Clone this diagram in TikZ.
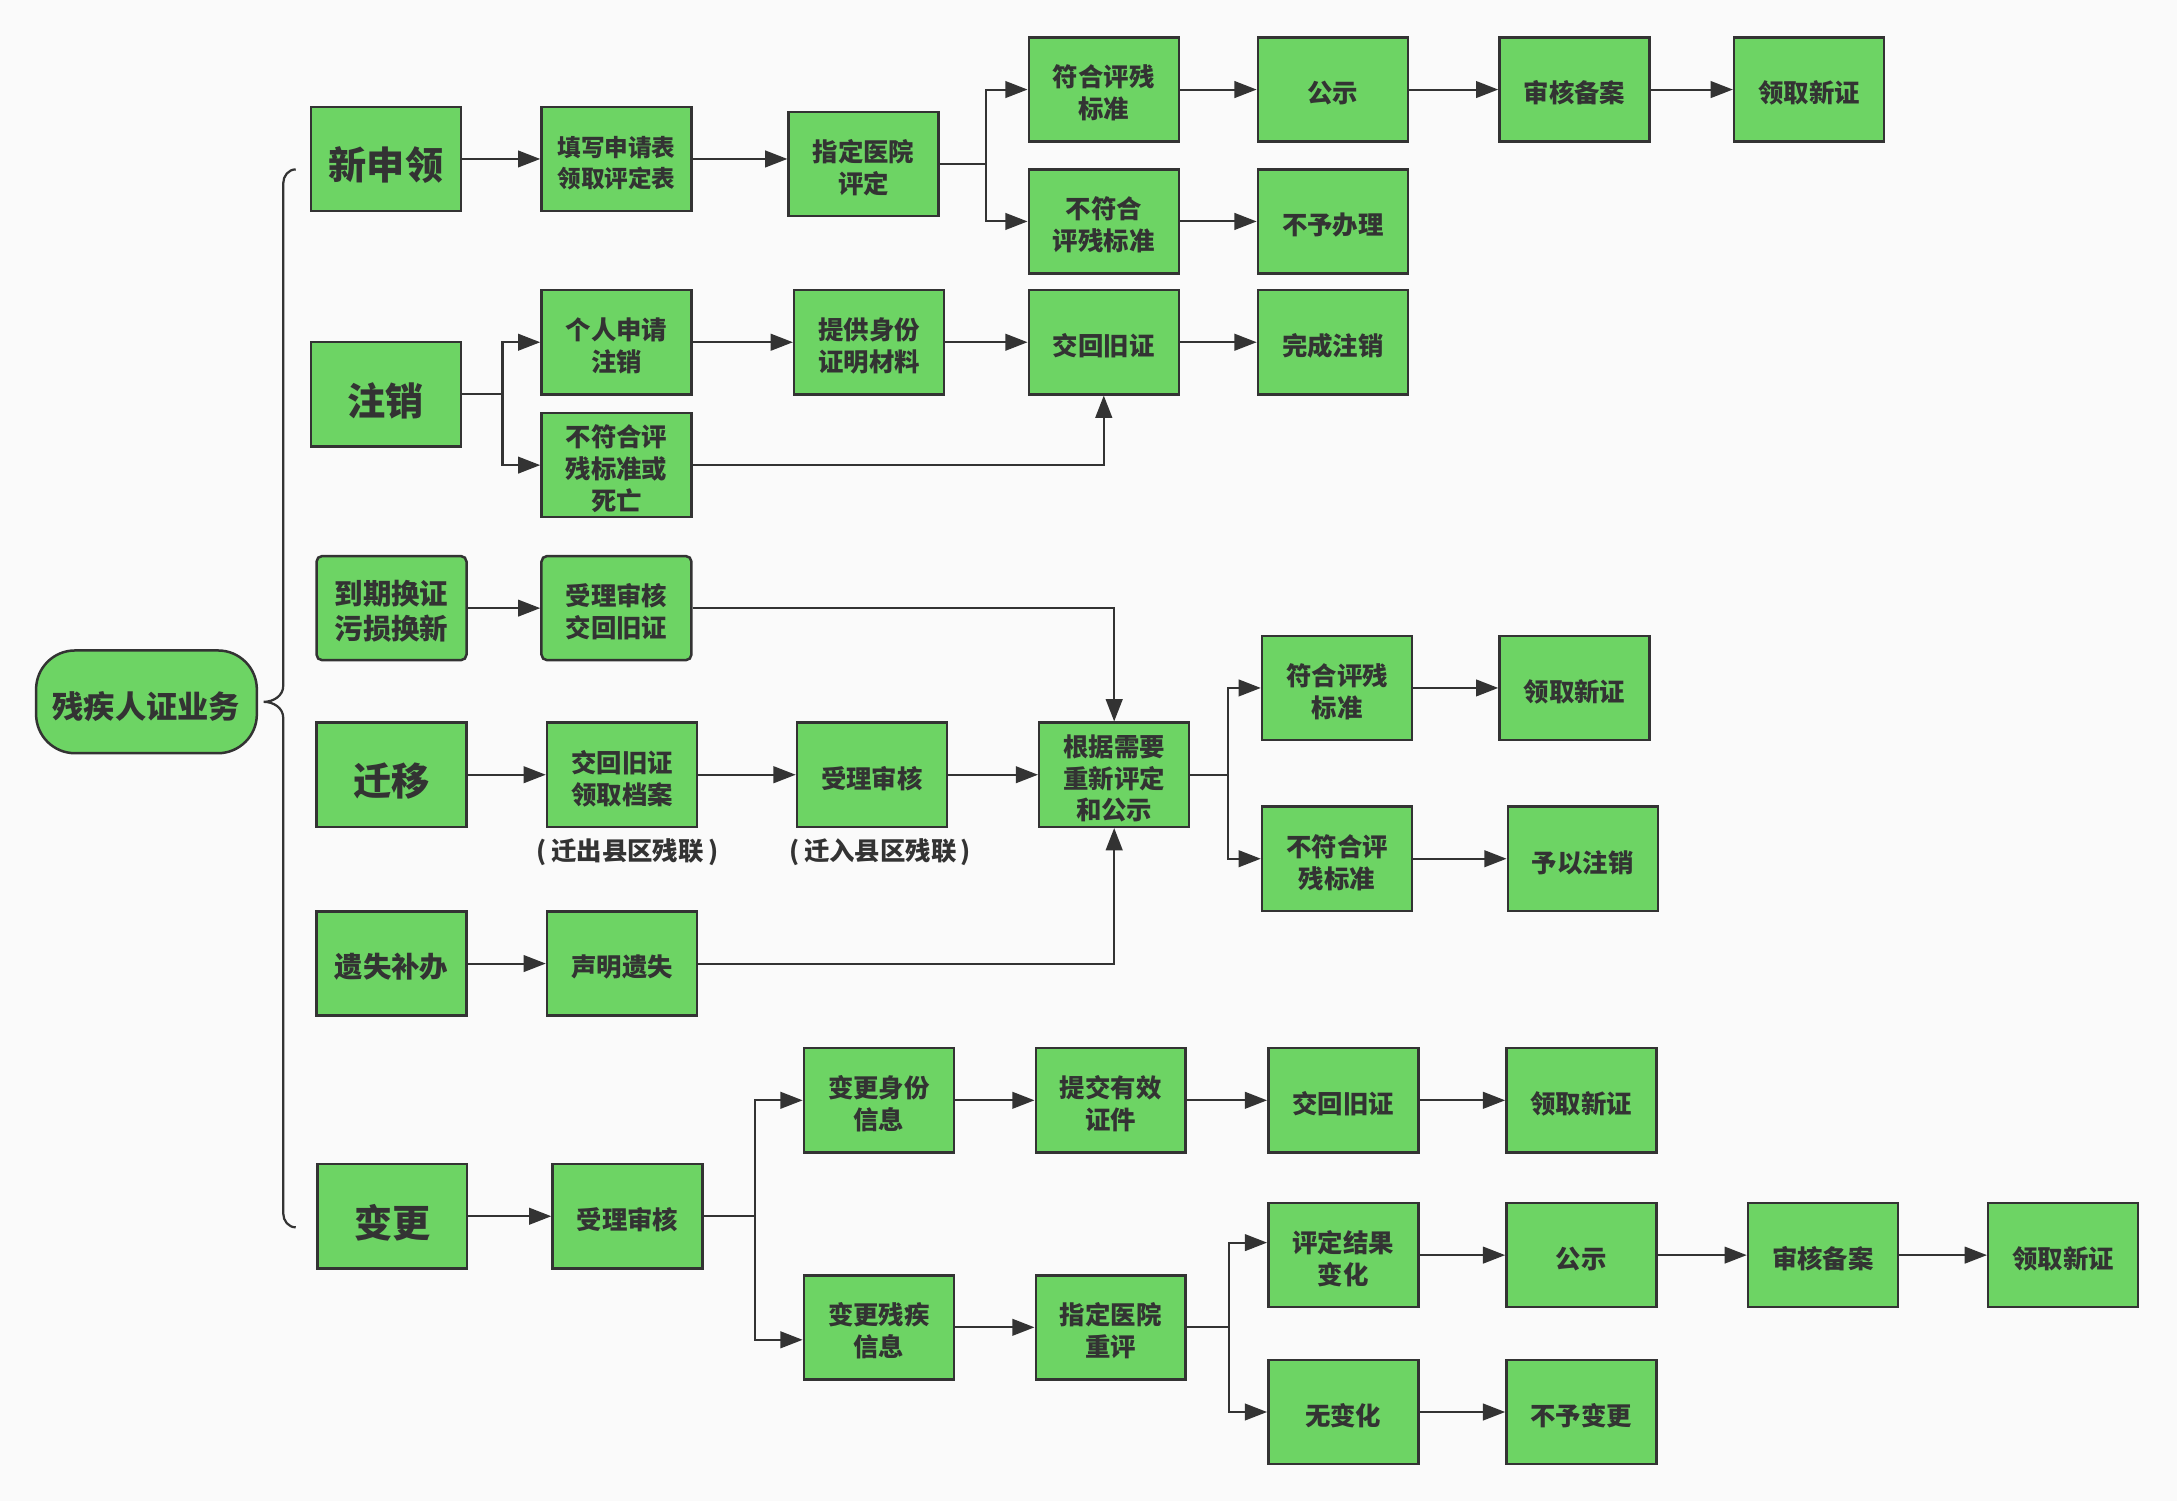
\documentclass[tikz,border=0pt]{standalone}
\usepackage{fontspec}
\setmainfont{Noto Sans CJK SC}
\usetikzlibrary{arrows.meta,calc}
\definecolor{bgc}{HTML}{FAFAFA}
\definecolor{gr}{HTML}{6DD464}
\definecolor{lc}{HTML}{333333}
\definecolor{tc}{HTML}{333333}
\newlength\txdrop
\setlength\txdrop{5pt}
\newcommand\tx[1]{\raisebox{-\txdrop}[\height][\depth]{\begin{tabular}{@{}c@{}}#1\end{tabular}}}
\tikzset{
  box/.style={draw=lc, line width=1.8pt, fill=gr, minimum width=108pt, minimum height=75pt,
    inner sep=0pt, text=tc, font=\fontsize{18.3}{23}\selectfont\bfseries\setlength\txdrop{5pt}},
  bigbox/.style={box, font=\fontsize{27.5}{32}\selectfont\bfseries\setlength\txdrop{8pt}},
  midbox/.style={box, rounded corners=4pt, font=\fontsize{20.5}{25}\selectfont\bfseries\setlength\txdrop{5pt}},
  smallbox/.style={box, font=\fontsize{17}{22}\selectfont\bfseries\setlength\txdrop{5pt}},
  rootbox/.style={draw=lc, line width=1.8pt, fill=gr, minimum width=159pt, minimum height=74pt,
    inner sep=0pt, rounded corners=28pt, text=tc, font=\fontsize{22.5}{26}\selectfont\bfseries\setlength\txdrop{6.5pt}},
  arr/.style={draw=lc, line width=1.5pt, -{Triangle[length=16pt,width=12pt]}},
  lbl/.style={text=tc, inner sep=0pt, font=\fontsize{18.3}{22}\selectfont\bfseries\setlength\txdrop{5pt}},
  bracel/.style={draw=lc, line width=1.6pt}
}
\begin{document}
\begin{tikzpicture}[x=1pt,y=-1pt]
\fill[bgc] (0,0) rectangle (1568,1081);
\useasboundingbox (0,0) rectangle (1568,1081);

% root
\node[rootbox] (root) at (105.5,505.5) {\tx{残疾人证业务}};

% brace
\draw[bracel] (213,122) to[out=180,in=90] (204,132) -- (204,494)
  to[out=-90,in=0] (190,505.5) to[out=0,in=90] (204,517) -- (204,874)
  to[out=-90,in=180] (213,884);

% column 1
\node[bigbox] (xsl) at (278,114.5) {\tx{新申领}};
\node[bigbox] (zx) at (278,284) {\tx{注销}};
\node[midbox] (dq) at (282,438) {\tx{到期换证\\污损换新}};
\node[bigbox] (qy) at (282,558) {\tx{迁移}};
\node[midbox, rounded corners=0pt] (ys) at (282,694) {\tx{遗失补办}};
\node[bigbox] (bg) at (282.5,876) {\tx{变更}};

% column 2
\node[smallbox] (txb) at (444,114.5) {\tx{填写申请表\\领取评定表}};
\node[box] (grsq) at (444,246.5) {\tx{个人申请\\注销}};
\node[box] (bfhsw) at (444,335) {\tx{不符合评\\残标准或\\死亡}};
\node[box, rounded corners=4pt] (slsh) at (444,438) {\tx{受理审核\\交回旧证}};
\node[box] (jhda) at (448,558) {\tx{交回旧证\\领取档案}};
\node[lbl] (lb1) at (452,610) {\tx{(\,迁出县区残联\,)}};
\node[box] (smys) at (448,694) {\tx{声明遗失}};
\node[box] (bgsl) at (452,876) {\tx{受理审核}};

% column 3
\node[box] (zdyy) at (622,118) {\tx{指定医院\\评定}};
\node[box] (tgsf) at (626,246.5) {\tx{提供身份\\证明材料}};
\node[box] (slsh2) at (628,558) {\tx{受理审核}};
\node[lbl] (lb2) at (634,610) {\tx{(\,迁入县区残联\,)}};
\node[box] (bgsf) at (633,792.5) {\tx{变更身份\\信息}};
\node[box] (bgcj) at (633,956) {\tx{变更残疾\\信息}};

% column 4
\node[box] (fh1) at (795,64.5) {\tx{符合评残\\标准}};
\node[box] (bfh1) at (795,159.5) {\tx{不符合\\评残标准}};
\node[box] (jhjz) at (795,246.5) {\tx{交回旧证}};
\node[box] (gjxy) at (802.5,558) {\tx{根据需要\\重新评定\\和公示}};
\node[box] (tjyx) at (800,792.5) {\tx{提交有效\\证件}};
\node[box] (zdcp) at (800,956) {\tx{指定医院\\重评}};

% column 5
\node[box] (gs1) at (960,64.5) {\tx{公示}};
\node[box] (bybl) at (960,159.5) {\tx{不予办理}};
\node[box] (wczx) at (960,246.5) {\tx{完成注销}};
\node[box] (fh2) at (963,495.5) {\tx{符合评残\\标准}};
\node[box] (bfh2) at (963,618.5) {\tx{不符合评\\残标准}};
\node[box] (jhjz2) at (967.5,792.5) {\tx{交回旧证}};
\node[box] (pdjg) at (967.5,904) {\tx{评定结果\\变化}};
\node[box] (wbh) at (967.5,1017) {\tx{无变化}};

% column 6
\node[box] (shba1) at (1134,64.5) {\tx{审核备案}};
\node[box] (lqxz2) at (1134,495.5) {\tx{领取新证}};
\node[box] (yyzx) at (1140,618.5) {\tx{予以注销}};
\node[box] (lqxz3) at (1139,792.5) {\tx{领取新证}};
\node[box] (gs2) at (1139,904) {\tx{公示}};
\node[box] (bybg) at (1139,1017) {\tx{不予变更}};

% column 7, 8
\node[box] (lqxz1) at (1303,64.5) {\tx{领取新证}};
\node[box] (shba2) at (1313,904) {\tx{审核备案}};
\node[box] (lqxz4) at (1486,904) {\tx{领取新证}};

% connectors: 新申领
\draw[arr] (xsl.east) -- (txb.west);
\draw[arr] (txb.east) -- (txb.east -| zdyy.west);
\draw[arr] (zdyy.east) -- ++(33,0) |- (fh1.west);
\draw[arr] (zdyy.east) -- ++(33,0) |- (bfh1.west);
\draw[arr] (fh1.east) -- (gs1.west);
\draw[arr] (gs1.east) -- (shba1.west);
\draw[arr] (shba1.east) -- (lqxz1.west);
\draw[arr] (bfh1.east) -- (bybl.west);

% 注销
\draw[arr] (zx.east) -- ++(29,0) |- (grsq.west);
\draw[arr] (zx.east) -- ++(29,0) |- (bfhsw.west);
\draw[arr] (grsq.east) -- (tgsf.west);
\draw[arr] (tgsf.east) -- (jhjz.west);
\draw[arr] (jhjz.east) -- (wczx.west);
\draw[arr] (bfhsw.east) -| (jhjz.south);

% 到期换证
\draw[arr] (dq.east) -- (slsh.west);
\draw[arr] (slsh.east) -| (gjxy.north);

% 迁移
\draw[arr] (qy.east) -- (jhda.west);
\draw[arr] (jhda.east) -- (slsh2.west);
\draw[arr] (slsh2.east) -- (gjxy.west);
\draw[arr] (gjxy.east) -- ++(27,0) |- (fh2.west);
\draw[arr] (gjxy.east) -- ++(27,0) |- (bfh2.west);
\draw[arr] (fh2.east) -- (lqxz2.west);
\draw[arr] (bfh2.east) -- (yyzx.west);

% 遗失补办
\draw[arr] (ys.east) -- (smys.west);
\draw[arr] (smys.east) -| (gjxy.south);

% 变更
\draw[arr] (bg.east) -- (bgsl.west);
\draw[arr] (bgsl.east) -- ++(37,0) |- (bgsf.west);
\draw[arr] (bgsl.east) -- ++(37,0) |- ([yshift=-9pt]bgcj.west);
\draw[arr] (bgsf.east) -- (tjyx.west);
\draw[arr] (tjyx.east) -- (jhjz2.west);
\draw[arr] (jhjz2.east) -- (lqxz3.west);
\draw[arr] (bgcj.east) -- (zdcp.west);
\draw[arr] (zdcp.east) -- ++(30,0) |- ([yshift=9pt]pdjg.west);
\draw[arr] (zdcp.east) -- ++(30,0) |- (wbh.west);
\draw[arr] (pdjg.east) -- (gs2.west);
\draw[arr] (gs2.east) -- (shba2.west);
\draw[arr] (shba2.east) -- (lqxz4.west);
\draw[arr] (wbh.east) -- (bybg.west);
\end{tikzpicture}
\end{document}
